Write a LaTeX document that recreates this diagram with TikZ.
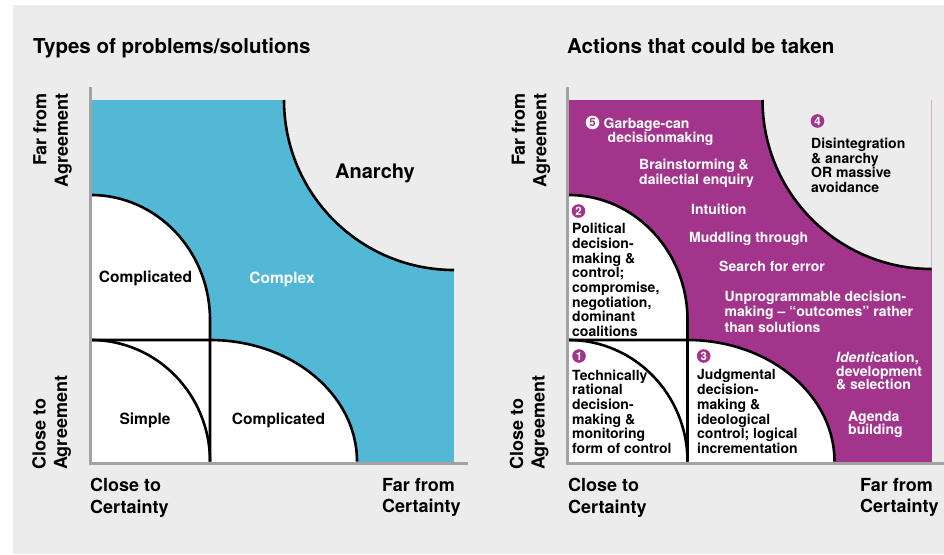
\documentclass[tikz,border=0pt]{standalone}
\usepackage{fontspec}
\setmainfont{TeX Gyre Heros}
\definecolor{pur}{HTML}{A2358B}
\definecolor{blu}{HTML}{53B7D6}
\definecolor{bg}{HTML}{ECECEC}
\definecolor{axgray}{HTML}{A3A3A3}
\begin{document}
\begin{tikzpicture}[x=1pt,y=-1pt,
  lab/.style={font=\fontsize{15.5}{18}\selectfont\bfseries, inner sep=0},
  ax/.style={font=\fontsize{18}{21.5}\selectfont\bfseries, inner sep=0},
  ttl/.style={font=\fontsize{20.5}{24}\selectfont\bfseries, inner sep=0, anchor=base west},
  sm/.style={font=\fontsize{14}{14.7}\selectfont\bfseries, inner sep=0, anchor=north west, align=left},
  smw/.style={sm, text=white, font=\fontsize{14}{15.7}\selectfont\bfseries},
  smt/.style={sm, text=white, font=\fontsize{14}{13.5}\selectfont\bfseries},
  numc/.style={inner sep=0pt, text=white, font=\fontsize{11.5}{11.5}\selectfont\bfseries},
  numw/.style={numc, text=pur},
  curve/.style={line width=2.6pt, black},
  axis/.style={line width=3pt, axgray}]
\useasboundingbox (0,0) rectangle (944,554);
\fill[bg] (13,5) rectangle (944,554);

% ---------- left panel ----------
\fill[blu] (90,100) rectangle (454,463);
\fill[bg] (454,100) -- (284,100) arc[start angle=180, end angle=90, radius=170] -- cycle;
\fill[white] (90,320) -- (90,195) arc[start angle=270, end angle=360, x radius=120, y radius=125] -- (210,340) -- (90,340) -- cycle;
\fill[white] (90,340) rectangle (210,463);
\fill[white] (210,463) -- (210,340) arc[start angle=270, end angle=360, x radius=147, y radius=123] -- cycle;
\draw[curve] (284,100) arc[start angle=180, end angle=90, radius=170];
\draw[curve] (91,195) arc[start angle=270, end angle=360, x radius=119, y radius=125] -- (210,461.5);
\draw[curve] (91,340) -- (210,340) arc[start angle=270, end angle=360, x radius=147, y radius=121.5];
\draw[curve] (91,340) arc[start angle=270, end angle=360, x radius=119, y radius=121.5];
\draw[axis] (90,87) -- (90,463) -- (468,463);

% ---------- right panel ----------
\begin{scope}[xshift=477.5]
\fill[pur] (90,100) rectangle (454,463);
\fill[bg] (454,100) -- (285,100) arc[start angle=180, end angle=90, radius=169] -- cycle;
\fill[white] (90,320) -- (90,195) arc[start angle=270, end angle=360, x radius=120, y radius=125] -- (210,340) -- (90,340) -- cycle;
\fill[white] (90,340) rectangle (210,463);
\fill[white] (210,463) -- (210,340) arc[start angle=270, end angle=360, x radius=147, y radius=123] -- cycle;
\draw[curve] (285,100) arc[start angle=180, end angle=90, radius=169];
\draw[curve] (91,195) arc[start angle=270, end angle=360, x radius=119, y radius=125] -- (210,461.5);
\draw[curve] (91,340) -- (210,340) arc[start angle=270, end angle=360, x radius=147, y radius=121.5];
\draw[curve] (91,340) arc[start angle=270, end angle=360, x radius=119, y radius=121.5];
\end{scope}
\draw[axis] (567,87) -- (567,463) -- (944,463);

% ---------- titles ----------
\node[ttl] (t1) at (33,53.3) {Types of problems/solutions};
\node[ttl] (t2) at (567,53.3) {Actions that could be taken};

% ---------- axis labels ----------
\node[ax, rotate=90, anchor=north east, align=right] (fa1) at (33,93) {Far from\\Agreement};
\node[ax, rotate=90, anchor=north west, align=left] (ca1) at (32,470) {Close to\\Agreement};
\node[ax, anchor=north west, align=left] (cc1) at (90,478) {Close to\\Certainty};
\node[ax, anchor=north west, align=left] (fc1) at (382,478) {Far from\\Certainty};
\node[ax, rotate=90, anchor=north east, align=right] (fa2) at (511.5,93) {Far from\\Agreement};
\node[ax, rotate=90, anchor=north west, align=left] (ca2) at (509.5,470) {Close to\\Agreement};
\node[ax, anchor=north west, align=left] (cc2) at (568,478) {Close to\\Certainty};
\node[ax, anchor=north west, align=left] (fc2) at (860,478) {Far from\\Certainty};

% ---------- left labels ----------
\node[lab] (cx1) at (145.5,278.5) {Complicated};
\node[lab, text=white] (cxx) at (282,279.5) {Complex};
\node[font=\fontsize{20}{24}\selectfont\bfseries, inner sep=0] (an) at (375,173) {Anarchy};
\node[lab] (sim) at (145,420.5) {Simple};
\node[lab] (cx2) at (278.5,420.5) {Complicated};

% ---------- numbered discs ----------
\fill[white] (592.5,122.5) circle[radius=6.8];
\fill[pur] (817.5,121) circle[radius=6.8];
\fill[pur] (578.5,211) circle[radius=6.8];
\fill[pur] (579,356) circle[radius=6.8];
\fill[pur] (703.7,356) circle[radius=6.8];
\node[numw] (n5) at (592.5,122.5) {5};
\node[numc] (n4) at (817.5,121) {4};
\node[numc] (n2) at (578.5,211) {2};
\node[numc] (n1) at (579,356) {1};
\node[numc] (n3) at (703.7,356) {3};

% ---------- right labels ----------
\node[sm, text=white] (g5) at (603.5,117.7) {Garbage-can\\\hspace*{4pt}decisionmaking};
\node[smw] (bs) at (639,158.5) {Brainstorming \&\\dailectial enquiry};
\node[sm, text=white] (in) at (691,204) {Intuition};
\node[sm, text=white] (md) at (689,232) {Muddling through};
\node[sm, text=white] (se) at (719,260.5) {Search for error};
\node[smw] (up) at (724.5,290.5) {Unprogrammable decision-\\making – “outcomes” rather\\than solutions};
\node[sm] (di) at (811,137.7) {Disintegration\\\& anarchy\\OR massive\\avoidance};
\node[sm] (po) at (572,223) {Political\\decision-\\making \&\\control;\\compromise,\\negotiation,\\dominant\\coalitions};
\node[sm] (te) at (572,369.5) {Technically\\rational\\decision-\\making \&\\monitoring\\form of control};
\node[sm] (ju) at (697,369.5) {Judgmental\\decision-\\making \&\\ideological\\control; logical\\incrementation};
\node[smt] (id) at (836,352.3) {{\itshape Identi}cation,\\development\\\& selection};
\node[smt] (ag) at (848,410.7) {Agenda\\building};
\end{tikzpicture}
\end{document}
